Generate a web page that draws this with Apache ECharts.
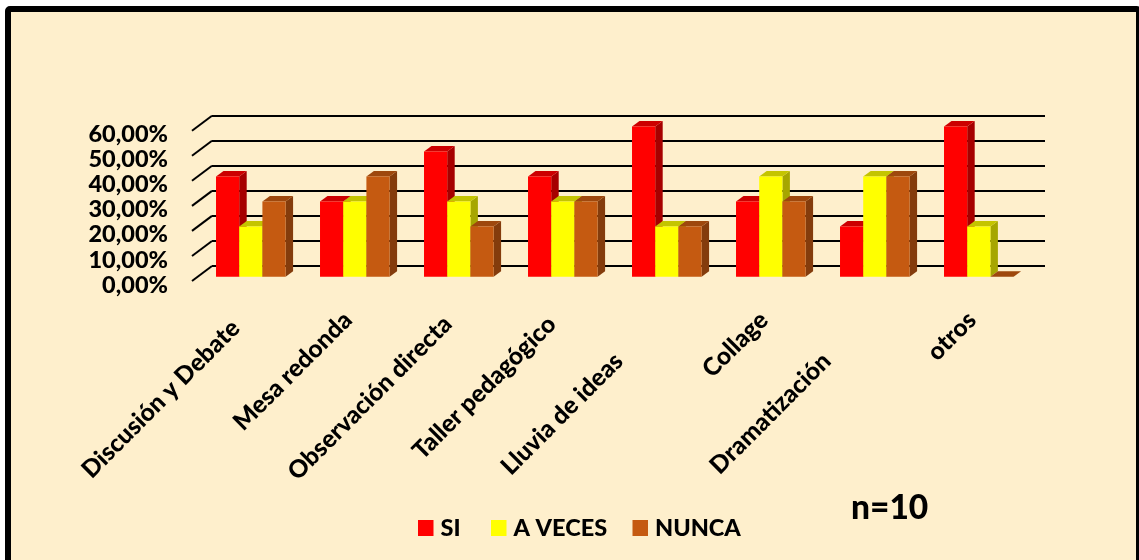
<!DOCTYPE html>
<html><head><meta charset="utf-8">
<style>html,body{margin:0;padding:0;background:#fff}#c{width:1139px;height:560px}</style>
<script src="https://cdn.jsdelivr.net/npm/echarts@6/dist/echarts.min.js"></script>
</head><body><div id="c"></div>
<script>
const categories = ['Discusión y Debate','Mesa redonda','Observación directa','Taller pedagógico','Lluvia de ideas','Collage','Dramatización','otros'];
const si = [40,30,50,40,60,30,20,60];
const aVeces = [20,30,30,30,20,40,40,20];
const nunca = [30,40,20,30,20,30,40,0];
const yTicks = [0,10,20,30,40,50,60];
const trailingSpaces = [2,0,1,1,10,0,10,0];
const FONT = 'Lato';

const chart = echarts.init(document.getElementById('c'), null, {renderer:'canvas'});

function barSeries(name, values, slot, front, top, side){
  return {
    name, type:'custom', xAxisIndex:0, yAxisIndex:0, z:5+slot, clip:false,
    itemStyle:{color:front},
    encode:{x:0,y:1},
    data: values.map((v,i)=>[categories[i],v]),
    renderItem(params, api){
      const idx = api.value(0), v = api.value(1);
      const base = api.coord([idx,0]), head = api.coord([idx,v]);
      const band = api.size([1,0])[0];
      const w = band*0.223, dx = 7.5, dy = 5.5, px = 6.8, py = -8.3;
      const x0 = base[0]-band*0.3345+slot*w+px, x1 = x0+w;
      const yb = base[1]+py, yt = head[1]+py;
      return {type:'group',children:[
        {type:'polygon',shape:{points:[[x1,yt],[x1+dx,yt-dy],[x1+dx,yb-dy],[x1,yb]]},style:{fill:side}},
        {type:'polygon',shape:{points:[[x0,yt],[x0+dx,yt-dy],[x1+dx,yt-dy],[x1,yt]]},style:{fill:top}},
        {type:'rect',shape:{x:x0,y:yt,width:w,height:yb-yt},style:{fill:front}}
      ]};
    }
  };
}

const legendBase = {orient:'horizontal',icon:'rect',itemWidth:15.5,itemHeight:16,itemGap:0,top:516,padding:0,
  textStyle:{fontFamily:FONT,fontWeight:900,fontSize:23.5,color:'#000',padding:[0,0,0,2]}};

chart.setOption({
  animation:false,
  backgroundColor:'#fff',
  graphic:[{type:'rect',z:-10,silent:true,shape:{x:8,y:9,width:1131,height:570,r:2},
    style:{fill:'#FEEFCC',stroke:'#000',lineWidth:6}}],
  title:{text:'n=10',left:846,top:486,textStyle:{fontFamily:FONT,fontWeight:900,fontSize:33.5,color:'#000'}},
  legend:[
    Object.assign({},legendBase,{left:418,data:['SI']}),
    Object.assign({},legendBase,{left:491,data:['A VECES']}),
    Object.assign({},legendBase,{left:632.5,data:['NUNCA']})
  ],
  grid:[
    {left:192,top:134.7,width:832,height:150.3,containLabel:false},
    {left:212,top:115.5,width:833,height:150.6,containLabel:false}
  ],
  xAxis:[
    {type:'category',gridIndex:0,data:categories,axisLine:{show:false},axisTick:{show:false},
     axisLabel:{interval:0,rotate:45,margin:31,fontFamily:FONT,fontWeight:900,fontSize:24.5,color:'#000',
       formatter:(name,i)=>name+'\u00A0'.repeat(trailingSpaces[i])}},
    {type:'category',gridIndex:1,data:categories,show:false}
  ],
  yAxis:[
    {type:'value',gridIndex:0,min:0,max:60,interval:10,axisLine:{show:false},axisTick:{show:false},splitLine:{show:false},
     axisLabel:{margin:24,fontFamily:FONT,fontWeight:900,fontSize:23.5,color:'#000',
       formatter:v=>v.toFixed(2).replace('.',',')+'%'}},
    {type:'value',gridIndex:1,min:0,max:60,interval:10,axisLine:{show:false},axisTick:{show:false},axisLabel:{show:false},
     splitLine:{show:true,lineStyle:{color:'#000',width:2.2}}}
  ],
  series:[
    {type:'custom',name:'pared',xAxisIndex:0,yAxisIndex:0,z:2,silent:true,clip:false,encode:{x:0,y:1},
     data:yTicks.map(t=>[categories[0],t]),
     renderItem(params,api){
       const p = api.coord([0,api.value(1)]), band = api.size([1,0])[0];
       const x = p[0]-band/2, y = p[1]-4;
       return {type:'line',shape:{x1:x,y1:y,x2:x+20,y2:y-15},style:{stroke:'#000',lineWidth:2}};
     }},
    barSeries('SI',si,0,'#FF0000','#CC0000','#A60000'),
    barSeries('A VECES',aVeces,1,'#FFFF00','#C4C400','#A6A600'),
    barSeries('NUNCA',nunca,2,'#C55A11','#9E480D','#843C0C')
  ]
});
</script></body></html>
